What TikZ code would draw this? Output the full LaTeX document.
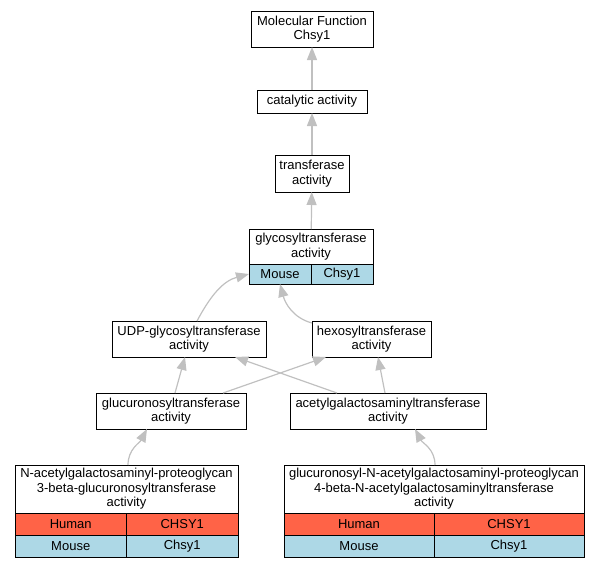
\documentclass[tikz,border=0pt]{standalone}
\usepackage{fontspec}
\setmainfont{Liberation Sans}
\usepackage{tikz}
\usetikzlibrary{arrows.meta,positioning}

\definecolor{humanred}{HTML}{FF6347}
\definecolor{mouseblue}{HTML}{ADD8E6}
\definecolor{edgegray}{HTML}{C0C0C0}

\begin{document}
\begin{tikzpicture}[
    x=1pt, y=1pt,
    term/.style={rectangle, draw, line width=1pt, fill=white, align=center,
                 inner sep=0pt, outer sep=0pt, font=\fontsize{13}{14.5}\selectfont},
    cell/.style={rectangle, draw, line width=1pt, align=center, inner sep=0pt,
                 outer sep=0pt, minimum height=22pt, font=\fontsize{13}{14.5}\selectfont},
    human/.style={cell, fill=humanred},
    mouse/.style={cell, fill=mouseblue},
    edge/.style={-{Triangle[length=13pt,width=10pt]}, draw=edgegray, line width=1.2pt}
]
\useasboundingbox (0,0) rectangle (599,-568);

% top chain
\node[term, minimum width=122pt, minimum height=36pt] (molfun) at (312,-29) {Molecular Function\\Chsy1};
\node[term, minimum width=110pt, minimum height=23pt] (catal) at (312,-101.5) {catalytic activity};
\node[term, minimum width=74pt, minimum height=37pt] (transf) at (312,-173.5) {transferase\\activity};
\node[term, minimum width=124pt, minimum height=35pt] (glyco) at (311,-246.5) {glycosyltransferase\\activity};
\node[mouse, minimum width=62pt, minimum height=20pt, below right=0pt of glyco.south west] (glycoMouse) {Mouse};
\node[mouse, minimum width=62pt, minimum height=20pt, right=0pt of glycoMouse] (glycoGene) {Chsy1};

% middle levels
\node[term, minimum width=154pt, minimum height=36pt] (udp) at (189,-339) {UDP-glycosyltransferase\\activity};
\node[term, minimum width=119pt, minimum height=36pt] (hexo) at (371.5,-339) {hexosyltransferase\\activity};
\node[term, minimum width=150pt, minimum height=36pt] (glcu) at (171,-411) {glucuronosyltransferase\\activity};
\node[term, minimum width=196pt, minimum height=36pt] (acgal) at (388,-411) {acetylgalactosaminyltransferase\\activity};

% leaves
\node[term, minimum width=223pt, minimum height=48pt] (nacet) at (126.5,-489)
    {N-acetylgalactosaminyl-proteoglycan\\3-beta-glucuronosyltransferase\\activity};
\node[human, minimum width=111.5pt, below right=0pt of nacet.south west] (nacetHuman) {Human};
\node[human, minimum width=111.5pt, right=0pt of nacetHuman] (nacetHGene) {CHSY1};
\node[mouse, minimum width=111.5pt, below=0pt of nacetHuman] (nacetMouse) {Mouse};
\node[mouse, minimum width=111.5pt, right=0pt of nacetMouse] (nacetMGene) {Chsy1};

\node[term, minimum width=300pt, minimum height=48pt] (gnac) at (434,-489)
    {glucuronosyl-N-acetylgalactosaminyl-proteoglycan\\4-beta-N-acetylgalactosaminyltransferase\\activity};
\node[human, minimum width=150pt, below right=0pt of gnac.south west] (gnacHuman) {Human};
\node[human, minimum width=150pt, right=0pt of gnacHuman] (gnacHGene) {CHSY1};
\node[mouse, minimum width=150pt, below=0pt of gnacHuman] (gnacMouse) {Mouse};
\node[mouse, minimum width=150pt, right=0pt of gnacMouse] (gnacMGene) {Chsy1};

% is_a edges
\draw[edge] (catal) -- (molfun);
\draw[edge] (transf) -- (catal);
\draw[edge] (glyco) -- (transf);
\draw[edge] ([xshift=8pt]udp.north) to[out=62,in=195] (glycoMouse.west);
\draw[edge] ([yshift=-2pt]hexo.north west) to[out=165,in=-75] (glycoMouse.south);
\draw[edge] ([xshift=4pt]glcu.north) -- ([xshift=-4pt]udp.south);
\draw[edge] ([xshift=-23pt]glcu.north east) -- ([xshift=14pt]hexo.south west);
\draw[edge] ([xshift=47pt]acgal.north west) -- ([xshift=-31pt]udp.south east);
\draw[edge] ([xshift=-3pt]acgal.north) -- ([xshift=6.5pt]hexo.south);
\draw[edge] ([xshift=1.5pt]nacet.north) to[out=90,in=-118] ([xshift=-24pt]glcu.south);
\draw[edge] ([xshift=1pt]gnac.north) to[out=90,in=-62] ([xshift=27pt]acgal.south);
\end{tikzpicture}
\end{document}
